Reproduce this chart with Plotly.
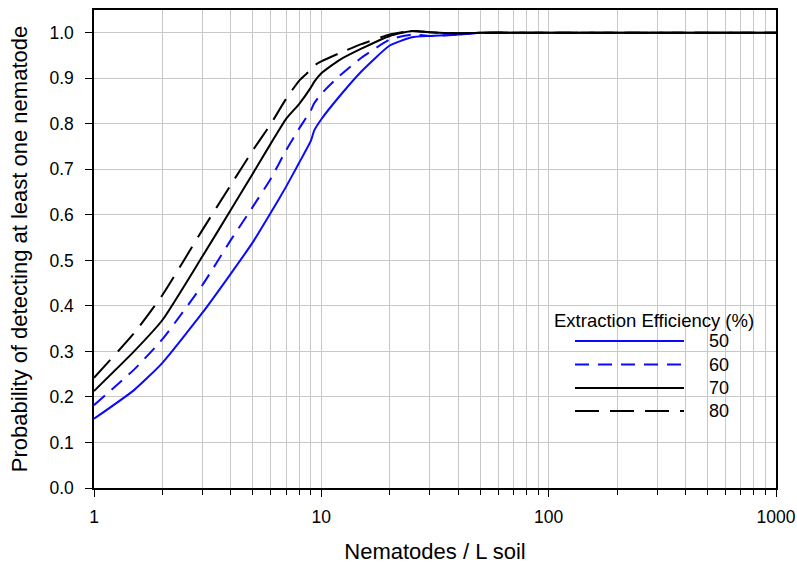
import plotly.graph_objects as go

# Data
nematodes = [1, 1.5, 2, 3, 4, 5, 6, 7, 8, 9, 9.3, 10, 12, 15, 20, 25, 30, 40, 50, 100, 1000]
eff_50 = [0.152, 0.215, 0.275, 0.385, 0.471, 0.540, 0.605, 0.662, 0.715, 0.763, 0.785, 0.810, 0.860, 0.915, 0.972, 0.990, 0.993, 0.996, 1.0, 1.0, 1.0]
eff_60 = [0.182, 0.260, 0.327, 0.446, 0.545, 0.618, 0.680, 0.742, 0.790, 0.830, 0.845, 0.866, 0.905, 0.945, 0.985, 0.996, 0.993, 0.996, 1.0, 1.0, 1.0]
eff_70 = [0.213, 0.300, 0.369, 0.509, 0.611, 0.691, 0.757, 0.811, 0.844, 0.880, 0.892, 0.911, 0.940, 0.965, 0.993, 1.004, 1.001, 0.999, 1.0, 1.0, 1.0]
eff_80 = [0.242, 0.340, 0.424, 0.567, 0.666, 0.742, 0.800, 0.855, 0.895, 0.919, 0.928, 0.937, 0.955, 0.975, 0.996, 1.004, 1.001, 0.999, 1.0, 1.0, 1.0]
efficiency_labels = ["50", "60", "70", "80"]
y_ticks = [round(i * 0.1, 1) for i in range(11)]
x_ticks = [1, 10, 100, 1000]

series = [eff_50, eff_60, eff_70, eff_80]
colors = ["#0a0aff", "#0a0aff", "black", "black"]
dashes = ["solid", "14px,9px", "solid", "24px,11px"]

fig = go.Figure()
for vals, col, dsh, lab in zip(series, colors, dashes, efficiency_labels):
    fig.add_trace(go.Scatter(x=nematodes, y=vals, mode="lines", name=lab,
                             line=dict(color=col, width=2, dash=dsh,
                                       shape="spline", smoothing=0.5),
                             showlegend=False))

ML, MT, PW, PH = 94, 10, 682, 478

def px_to_paper_x(px):
    return (px - ML) / PW

def px_to_paper_y(py):
    return (MT + PH - py) / PH

shapes = []
annotations = []
shapes.append(dict(type="rect", xref="paper", yref="paper", layer="between",
                   x0=px_to_paper_x(548), x1=px_to_paper_x(760),
                   y0=px_to_paper_y(333), y1=px_to_paper_y(305),
                   fillcolor="white", line=dict(width=0)))
shapes.append(dict(type="rect", xref="paper", yref="paper", layer="between",
                   x0=px_to_paper_x(563), x1=px_to_paper_x(745),
                   y0=px_to_paper_y(432), y1=px_to_paper_y(332),
                   fillcolor="white", line=dict(width=0)))
annotations.append(dict(text="Extraction Efficiency (%)", xref="paper", yref="paper",
                        x=px_to_paper_x(654), y=px_to_paper_y(320), showarrow=False,
                        xanchor="center", yanchor="middle",
                        font=dict(size=18.5, color="black")))
row_y = [341, 364.5, 388, 411]
for ry, col, dsh, lab in zip(row_y, colors, dashes, efficiency_labels):
    shapes.append(dict(type="line", xref="paper", yref="paper", layer="above",
                       x0=px_to_paper_x(575), x1=px_to_paper_x(684),
                       y0=px_to_paper_y(ry), y1=px_to_paper_y(ry),
                       line=dict(color=col, width=2, dash=dsh)))
    annotations.append(dict(text=lab, xref="paper", yref="paper",
                            x=px_to_paper_x(707), y=px_to_paper_y(ry), showarrow=False,
                            xanchor="left", yanchor="middle",
                            font=dict(size=18, color="black")))

fig.update_layout(
    width=797, height=564,
    margin=dict(l=ML, r=797 - ML - PW, t=MT, b=564 - MT - PH),
    paper_bgcolor="white", plot_bgcolor="white",
    font=dict(family="Liberation Sans, Arial, sans-serif", color="black", size=17),
    shapes=shapes, annotations=annotations,
    showlegend=False,
)
fig.update_xaxes(
    type="log", range=[0, 3], automargin=False,
    tickvals=x_ticks, ticktext=[str(v) for v in x_ticks],
    ticks="outside", ticklen=7, tickcolor="black", tickwidth=1.2,
    ticklabelstandoff=5,
    showline=True, linecolor="black", linewidth=1.5, mirror=True,
    showgrid=True, gridcolor="#c8c8c8", gridwidth=1,
    minor=dict(ticks="outside", ticklen=5, tickcolor="black", showgrid=True,
               gridcolor="#c8c8c8", gridwidth=1,
               tickvals=[m * 10 ** d for d in range(3) for m in range(2, 10)]),
    title=dict(text="Nematodes / L soil", font=dict(size=22), standoff=22),
    tickfont=dict(size=17.5), zeroline=False,
)
fig.update_yaxes(
    range=[0, 1.05], automargin=False,
    tickvals=y_ticks, ticktext=[f"{v:.1f}" for v in y_ticks],
    ticks="outside", ticklen=7, tickcolor="black", tickwidth=1.2,
    ticklabelstandoff=8,
    showline=True, linecolor="black", linewidth=1.5, mirror=True,
    showgrid=True, gridcolor="#c8c8c8", gridwidth=1,
    title=dict(text="Probability of detecting at least one nematode", font=dict(size=22), standoff=16),
    tickfont=dict(size=17.5), zeroline=False,
)

fig.write_html("out.html", config={"displayModeBar": False},
               post_script="document.body.style.margin='0';document.body.style.overflow='hidden';")
